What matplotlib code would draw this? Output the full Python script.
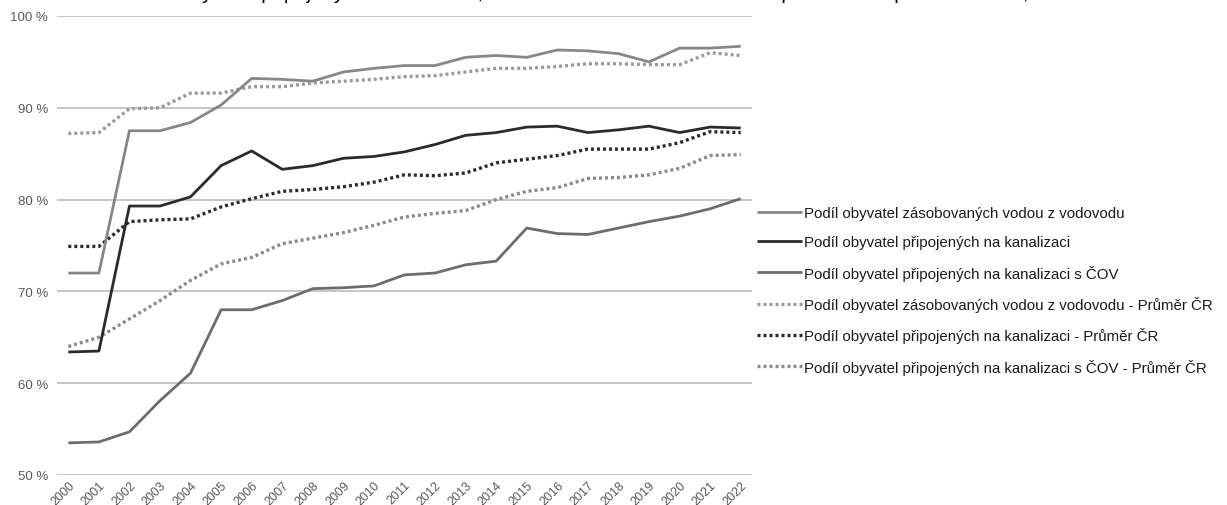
import matplotlib
matplotlib.use("Agg")
import matplotlib.pyplot as plt
import numpy as np

years = [str(y) for y in range(2000, 2023)]

vodovod = [72.0, 72.0, 87.5, 87.5, 88.4, 90.3, 93.2, 93.1, 92.9, 93.9, 94.3, 94.6,
           94.6, 95.5, 95.7, 95.5, 96.3, 96.2, 95.9, 95.0, 96.5, 96.5, 96.7]
kanalizace = [63.4, 63.5, 79.3, 79.3, 80.3, 83.7, 85.3, 83.3, 83.7, 84.5, 84.7, 85.2,
              86.0, 87.0, 87.3, 87.9, 88.0, 87.3, 87.6, 88.0, 87.3, 87.9, 87.8]
cov = [53.5, 53.6, 54.7, 58.1, 61.1, 68.0, 68.0, 69.0, 70.3, 70.4, 70.6, 71.8,
       72.0, 72.9, 73.3, 76.9, 76.3, 76.2, 76.9, 77.6, 78.2, 79.0, 80.1]
vodovod_cr = [87.2, 87.3, 89.9, 90.0, 91.6, 91.6, 92.3, 92.3, 92.7, 92.9, 93.1, 93.4,
              93.5, 93.9, 94.3, 94.3, 94.5, 94.8, 94.8, 94.7, 94.7, 96.0, 95.7]
kanalizace_cr = [74.9, 74.9, 77.6, 77.8, 77.9, 79.2, 80.1, 80.9, 81.1, 81.4, 81.9, 82.7,
                 82.6, 82.9, 84.0, 84.4, 84.8, 85.5, 85.5, 85.5, 86.2, 87.4, 87.3]
cov_cr = [64.0, 65.0, 67.0, 69.0, 71.2, 73.0, 73.7, 75.2, 75.8, 76.4, 77.2, 78.1,
          78.5, 78.8, 80.0, 80.9, 81.3, 82.3, 82.4, 82.7, 83.4, 84.8, 84.9]

labels = [
    "Podíl obyvatel zásobovaných vodou z vodovodu",
    "Podíl obyvatel připojených na kanalizaci",
    "Podíl obyvatel připojených na kanalizaci s ČOV",
    "Podíl obyvatel zásobovaných vodou z vodovodu - Průměr ČR",
    "Podíl obyvatel připojených na kanalizaci - Průměr ČR",
    "Podíl obyvatel připojených na kanalizaci s ČOV - Průměr ČR",
]
yticks = [50, 60, 70, 80, 90, 100]
ytick_labels = ["50 %", "60 %", "70 %", "80 %", "90 %", "100 %"]
title = "Podíl obyvatel připojených na vodovod, kanalizaci a kanalizaci s ČOV – porovnání s průměrem ČR, 2000–2022"

plt.rcParams['font.family'] = ['Liberation Sans', 'DejaVu Sans']

W, H = 1227, 506
fig = plt.figure(figsize=(W / 100, H / 100), dpi=100)
ax = fig.add_axes([57 / W, 1 - 476 / H, (752 - 57) / W, (476 - 17) / H])

x = np.arange(len(years))
series = [vodovod, kanalizace, cov, vodovod_cr, kanalizace_cr, cov_cr]
colors = ["#878787", "#2b2b2b", "#6d6d6d", "#9a9a9a", "#2b2b2b", "#8a8a8a"]
styles = ["-", "-", "-", (0, (0.9, 0.9)), (0, (0.9, 0.9)), (0, (0.9, 0.9))]
lws = [2.0, 2.0, 2.0, 2.4, 2.4, 2.4]
order = [3, 5, 4, 2, 0, 1]
lines = {}
for i in order:
    ln, = ax.plot(x, series[i], color=colors[i], linestyle=styles[i], lw=lws[i],
                  label=labels[i], solid_capstyle='butt', dash_capstyle='butt', zorder=3)
    lines[i] = ln

ax.set_xlim(-0.37, 22.37)
ax.set_ylim(50, 100)
ax.set_yticks(yticks)
ax.set_yticklabels(ytick_labels)
ax.set_xticks(x)
ax.set_xticklabels(years, rotation=45, ha='right', rotation_mode='anchor')
ax.tick_params(axis='both', length=0, colors="#595959")
ax.tick_params(axis='y', pad=6.5, labelsize=9.5)
ax.tick_params(axis='x', pad=2.5, labelsize=9)
ax.grid(axis='y', color="#c6c6c6", lw=1.4, zorder=0)
ax.set_axisbelow(True)
for s in ax.spines.values():
    s.set_visible(False)

handles = [lines[i] for i in range(6)]
leg = fig.legend(handles, labels, loc='upper left', bbox_to_anchor=(757 / W, 1 - 207 / H),
                 frameon=False, fontsize=10.8, handlelength=3.0, handletextpad=0.15,
                 labelspacing=1.02, borderaxespad=0, borderpad=0)
for t in leg.get_texts():
    t.set_color("#1a1a1a")

fig.text(632 / W, 1 + 1.4 / H, title, ha='center', va='baseline', fontsize=14.8,
         color='black')

fig.savefig("out.png", dpi=100, facecolor='white')
